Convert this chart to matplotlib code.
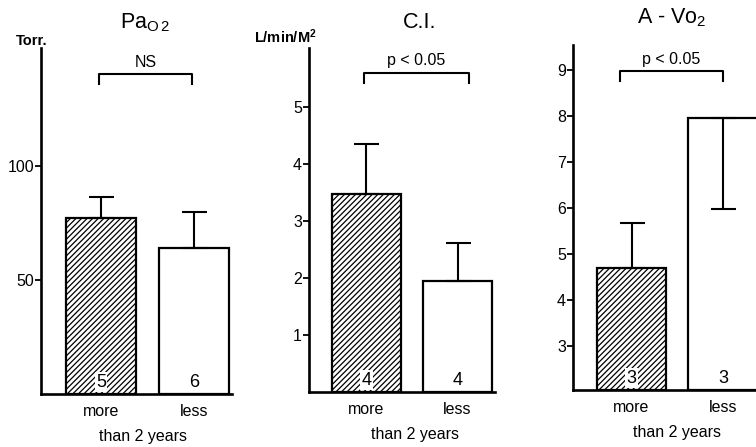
import matplotlib
matplotlib.use('Agg')
import matplotlib.pyplot as plt

plt.rcParams['font.family'] = ['Liberation Sans', 'DejaVu Sans']
plt.rcParams['hatch.linewidth'] = 0.9

# --- data ---
groups = ['more', 'less']
pao2_mean = [77.5, 64.0]
pao2_err_up = [9.0, 16.0]
pao2_n = [5, 6]

ci_mean = [3.47, 1.95]
ci_err_up = [0.88, 0.67]
ci_n = [4, 4]

avo2_mean = [4.7, 7.95]
avo2_err_up = [0.98, 0.0]
avo2_err_dn = [0.0, 1.98]
avo2_n = [3, 3]

W, H = 756, 447
fig = plt.figure(figsize=(W / 100, H / 100), dpi=100)


def rect(x0, y0, x1, y1):
    # pixel box -> figure fraction
    return [x0 / W, 1 - y1 / H, (x1 - x0) / W, (y1 - y0) / H]


def fx(x):
    return x / W


def fy(y):
    return 1 - y / H


panels = [
    dict(box=(41, 48, 232, 394), mean=pao2_mean, up=pao2_err_up, dn=[0, 0], n=pao2_n,
         ylim=(0, 152), ticks=[50, 100], xlim=(-0.645, 1.41),
         br_x=(-0.02, 0.98), br_y=(140.4, 136.4), br_text='NS',
         title=r'Pa$\mathregular{_{O\,2}}$', title_xy=(145, 23),
         unit='Torr.', unit_xy=(32, 41), foot_xy=(143, 437)),
    dict(box=(309, 48, 495, 392), mean=ci_mean, up=ci_err_up, dn=[0, 0], n=ci_n,
         ylim=(0, 6.03), ticks=[1, 2, 3, 4, 5], xlim=(-0.63, 1.41),
         br_x=(-0.03, 1.12), br_y=(5.6, 5.42), br_text='p < 0.05',
         title='C.I.', title_xy=(420, 22),
         unit=r'L/min/M$\mathregular{^2}$', unit_xy=(285, 37), foot_xy=(415, 435)),
    dict(box=(573, 45, 756, 390), mean=avo2_mean, up=avo2_err_up, dn=avo2_err_dn, n=avo2_n,
         ylim=(2.04, 9.54), ticks=[3, 4, 5, 6, 7, 8, 9], xlim=(-0.64, 1.36),
         br_x=(-0.13, 1.0), br_y=(8.98, 8.76), br_text='p < 0.05',
         title=r'A - Vo$\mathregular{_2}$', title_xy=(672, 18),
         unit=None, unit_xy=None, foot_xy=(677, 433)),
]

x = [0, 1]
for p in panels:
    ax = fig.add_axes(rect(*p['box']))
    bars = ax.bar(x, p['mean'], width=0.76, bottom=0, color='white',
                  edgecolor='black', linewidth=1.6, zorder=2)
    bars[0].set_hatch('//////')
    ax.errorbar(x, p['mean'], yerr=[p['dn'], p['up']], fmt='none', ecolor='black',
                elinewidth=1.5, capsize=9, capthick=1.5, zorder=3)

    ax.set_xlim(*p['xlim'])
    ax.set_ylim(*p['ylim'])
    # bars sit on the baseline even when ylim doesn't start at 0
    for b in bars:
        b.set_y(p['ylim'][0])
        b.set_height(b.get_height() - p['ylim'][0])

    for s in ['top', 'right']:
        ax.spines[s].set_visible(False)
    ax.spines['left'].set_linewidth(1.9)
    ax.spines['bottom'].set_linewidth(1.9)
    ax.set_yticks(p['ticks'])
    ax.tick_params(axis='y', length=4, width=1.3, labelsize=11.5, pad=1)
    ax.set_xticks(x)
    ax.set_xticklabels(groups, fontsize=11.5)
    ax.tick_params(axis='x', length=0, pad=7)

    # n inside bars
    for i, n in enumerate(p['n']):
        kw = {}
        if i == 0:
            kw['bbox'] = dict(boxstyle='square,pad=0.08', fc='white', ec='none')
        ax.annotate(str(n), (x[i], p['ylim'][0]), xytext=(0, 2.5), textcoords='offset points',
                    ha='center', va='bottom', fontsize=13, zorder=4, **kw)

    # significance bracket
    bx0, bx1 = p['br_x']
    yt, yl = p['br_y']
    ax.plot([bx0, bx0, bx1, bx1], [yl, yt, yt, yl], color='black', lw=1.5, clip_on=False)
    ax.annotate(p['br_text'], ((bx0 + bx1) / 2, yt), xytext=(0, 3), textcoords='offset points',
                ha='center', va='bottom', fontsize=11.5, annotation_clip=False)

    fig.text(fx(p['title_xy'][0]), fy(p['title_xy'][1]), p['title'],
             ha='center', va='center', fontsize=15.5)
    if p['unit']:
        fig.text(fx(p['unit_xy'][0]), fy(p['unit_xy'][1]), p['unit'],
                 ha='center', va='center', fontsize=10.5, fontweight='bold')
    fig.text(fx(p['foot_xy'][0]), fy(p['foot_xy'][1]), 'than 2 years',
             ha='center', va='center', fontsize=11.5)

fig.savefig('out.png', dpi=100)
